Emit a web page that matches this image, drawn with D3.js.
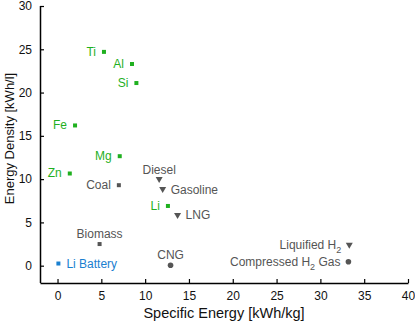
<!DOCTYPE html>
<html lang="en">
<head>
<meta charset="UTF-8">
<title>Energy density</title>
<script src="https://d3js.org/d3.v7.min.js"></script>
<style>
body{margin:0; background:#fff;}
svg text{font-family:"Liberation Sans", Arial, sans-serif;}
</style>
</head>
<body>
<div class="chart"></div>
<script>
// fuels: specific energy [kWh/kg] vs energy density [kWh/l]
var names   = ["Ti","Al","Si","Fe","Mg","Zn","Coal","Diesel","Gasoline","Li","LNG","Biomass","Li Battery","CNG","Liquified H2","Compressed H2 Gas"];
var specEn  = [5.3, 8.5, 9.0, 2.0, 7.1, 1.4, 7.0, 11.6, 12.0, 12.6, 13.7, 4.8, 0.1, 12.9, 33.3, 33.2];
var densEn  = [24.7, 23.3, 21.1, 16.2, 12.65, 10.65, 9.3, 9.95, 8.8, 6.9, 5.8, 2.5, 0.25, 0.05, 2.35, 0.45];
var kinds   = ["metal","metal","metal","metal","metal","metal","fuel","liquid","liquid","metal","liquid","fuel","battery","gas","liquid","gas"];
var xTicks  = [0,5,10,15,20,25,30,35,40];
var yTicks  = [0,5,10,15,20,25,30];

var w = 415, h = 323;
var margin = {left:40, right:7, top:6, bottom:40};

var colors = {metal:"#1fb01f", battery:"#1a80d0", fuel:"#555", liquid:"#555", gas:"#555"};
// label spot relative to the marker
var where = {"Li Battery":"right","Gasoline":"right","LNG":"right","Diesel":"above","Biomass":"above","CNG":"above"};

var svg = d3.select(".chart").append("svg")
	.attr("width", w)
	.attr("height", h);

var x = d3.scaleLinear().domain([-2,40]).range([margin.left, w - margin.right]);
var y = d3.scaleLinear().domain([-2,30]).range([h - margin.bottom, margin.top]);

//axes, ticks pointing inward
var xAxis = svg.append("g")
	.attr("transform", "translate(0," + y(-2) + ")")
	.call(d3.axisBottom(x).tickValues(xTicks).tickSizeInner(-4).tickSizeOuter(0).tickPadding(8));
var yAxis = svg.append("g")
	.attr("transform", "translate(" + x(-2) + ",0)")
	.call(d3.axisLeft(y).tickValues(yTicks).tickSizeInner(-4).tickSizeOuter(0).tickPadding(8));

[xAxis, yAxis].forEach(function(a){
	a.select(".domain").attr("stroke","#000").attr("stroke-width",1.5);
	a.selectAll(".tick line").attr("stroke","#000").attr("stroke-width",1.2);
	a.selectAll(".tick text").attr("font-size","12px").attr("fill","#111");
});
yAxis.select(".domain").attr("d", "M0.5," + y(-2) + "V" + y(30));

svg.append("text")
	.attr("x", (x(-2) + x(40)) / 2)
	.attr("y", 318)
	.attr("text-anchor","middle")
	.attr("font-size","14.5px")
	.attr("fill","#111")
	.text("Specific Energy [kWh/kg]");

svg.append("text")
	.attr("transform", "translate(14," + ((y(-2) + y(30)) / 2 - 6) + ") rotate(-90)")
	.attr("text-anchor","middle")
	.attr("font-size","13px")
	.attr("fill","#111")
	.text("Energy Density [kWh/l]");

var data = names.map(function(n, i){
	return {name:n, sx:specEn[i], dy:densEn[i], kind:kinds[i]};
});

var pts = svg.selectAll("g.pt")
	.data(data)
	.enter()
	.append("g")
	.attr("class","pt")
	.attr("transform", function(d){ return "translate(" + x(d.sx) + "," + y(d.dy) + ")"; });

pts.each(function(d){
	var g = d3.select(this);
	var c = colors[d.kind];
	if(d.kind == "liquid"){
		g.append("path").attr("d","M-3.5,-2.5L3.5,-2.5L0,3.5Z").attr("fill",c);
	}else if(d.kind == "gas"){
		g.append("circle").attr("r",2.8).attr("fill",c);
	}else{
		g.append("rect").attr("x",-2).attr("y",-2).attr("width",4).attr("height",4).attr("fill",c);
	}

	var pos = where[d.name] || "left";
	var t = g.append("text")
		.attr("font-size","12px")
		.attr("fill",c);
	if(pos == "left"){
		t.attr("x",-8).attr("y",4).attr("text-anchor","end");
	}else if(pos == "right"){
		t.attr("x",8).attr("y",4).attr("text-anchor","start");
	}else{
		t.attr("x",0).attr("y",-6).attr("text-anchor","middle");
	}
	// subscript 2 for hydrogen
	if(d.name.indexOf("H2") >= 0){
		var parts = d.name.split("H2");
		t.append("tspan").text(parts[0] + "H");
		t.append("tspan").attr("dy",4).attr("font-size","9px").text("2");
		if(parts[1]) t.append("tspan").attr("dy",-4).text(parts[1]);
	}else{
		t.text(d.name);
	}
});
</script>
</body>
</html>
